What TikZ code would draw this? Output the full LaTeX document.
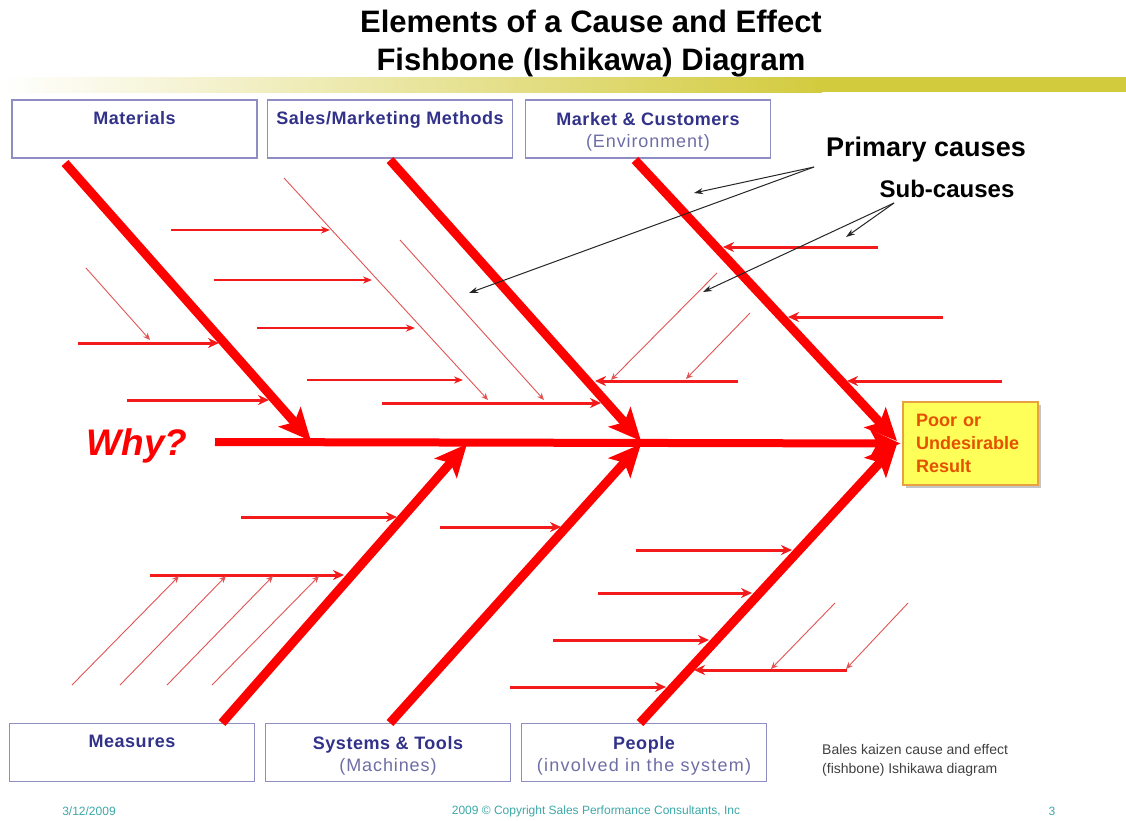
\documentclass[tikz,border=0pt]{standalone}
\usepackage{fontspec}
\setmainfont{Liberation Sans}
\usetikzlibrary{arrows.meta,shadows}
\definecolor{bonered}{HTML}{FF0000}
\definecolor{subred}{HTML}{F21A1A}
\definecolor{thinred}{HTML}{E25454}
\definecolor{boxline}{HTML}{8E8EC2}
\definecolor{boxtext}{HTML}{32328A}
\definecolor{boxsub}{HTML}{6E6EA6}
\definecolor{barc}{HTML}{D3CB3E}
\definecolor{effill}{HTML}{FFFF5A}
\definecolor{efline}{HTML}{E8A040}
\definecolor{eftext}{HTML}{E45200}
\definecolor{foot}{HTML}{3EA8A8}
\newcommand\fbconn[4]{\coordinate (#1s) at (#2); \coordinate (#1e) at (#3); \draw[#4] (#1s) -- (#1e);}
\newcommand\cattitle[1]{\rule{0pt}{19.5pt}{\bfseries\color{boxtext}\addfontfeature{LetterSpace=3}#1}}
\newcommand\catsub[2]{{\color{boxsub}\addfontfeature{LetterSpace=#1}#2}}
\begin{document}
\begin{tikzpicture}[x=1pt,y=-1pt,
  bone/.style={draw=bonered,line width=9pt,-{Stealth[length=32pt,width=29pt,inset=7pt]}},
  spine/.style={draw=bonered,line width=8pt,-{Stealth[length=30pt,width=27pt,inset=7pt]}},
  subarr/.style={draw=subred,line width=3pt,-{Stealth[length=11pt,width=10pt]}},
  midarr/.style={draw=subred,line width=1.8pt,-{Stealth[length=9pt,width=7pt]}},
  thinarr/.style={draw=thinred,line width=0.9pt,-{Stealth[length=7pt,width=6pt]}},
  annot/.style={draw=black!85,line width=1pt,-{Stealth[length=9pt,width=6pt]}},
  catbox/.style={draw=boxline,line width=1.3pt,fill=white,minimum width=245pt,minimum height=58pt,
    inner sep=0pt,align=center,font=\fontsize{18}{22}\selectfont},
  footer/.style={text=foot,font=\fontsize{12}{13}\selectfont}
]
\useasboundingbox (0,0) rectangle (1126,820);
\fill[white] (0,0) rectangle (1126,820);

% title and bar
\node[font=\fontsize{31}{38}\selectfont\bfseries,align=center] (title) at (591,44)
  {Elements of a Cause and Effect\\Fishbone (Ishikawa) Diagram};
\shade[left color=white,right color=barc] (0,77) rectangle (822,92);
\fill[barc] (818,77) rectangle (1126,92);

% category boxes
\node[catbox] (mat) at (134.5,129) {\cattitle{Materials}\\\strut};
\node[catbox] (sal) at (390,129) {\cattitle{Sales/Marketing Methods}\\\strut};
\node[catbox] (mkt) at (648,129) {\cattitle{Market \& Customers}\\\catsub{5}{(Environment)}};
\node[catbox] (mea) at (132,752.5) {\cattitle{Measures}\\\strut};
\node[catbox] (sys) at (388,752.5) {\cattitle{Systems \& Tools}\\\catsub{5}{(Machines)}};
\node[catbox] (ppl) at (644,752.5) {\cattitle{People}\\\catsub{7}{(involved in the system)}};

% effect box
\node[draw=efline,line width=1.2pt,fill=effill,minimum width=135pt,minimum height=83pt,
  text width=109pt,inner xsep=13pt,align=left,text=eftext,
  font=\fontsize{18}{23}\selectfont\bfseries,
  drop shadow={shadow xshift=3pt,shadow yshift=-3pt,fill=black!45}] (eff) at (970.5,443.5)
  {Poor or\\Undesirable\\Result};

% Why?
\node[text=bonered,font=\fontsize{37}{40}\selectfont\bfseries\itshape] (why) at (137,446) {Why?};

% spine
\coordinate (sp0) at (215,442);
\draw[spine,shorten >=2pt] (sp0) -- (eff.west);

% bones
\coordinate (matS) at (65,163);  \coordinate (matE) at (311,441);
\coordinate (salS) at (390,160); \coordinate (salE) at (641,441);
\coordinate (mktS) at (635,160); \coordinate (mktE) at (897,441);
\coordinate (meaS) at (222,723); \coordinate (meaE) at (467,444);
\coordinate (sysS) at (390,723); \coordinate (sysE) at (641,444);
\coordinate (pplS) at (640,723); \coordinate (pplE) at (897,444);
\foreach \b in {mat,sal,mkt,mea,sys,ppl} \draw[bone] (\b S) -- (\b E);

% Materials sub-causes
\fbconn{ma}{78,343}{219,343}{subarr}
\fbconn{mb}{127,400}{269,400}{subarr}
\fbconn{mc}{86,268}{150,340}{thinarr}

% Sales sub-causes
\fbconn{sa}{284,178}{488,400}{thinarr}
\fbconn{sb}{400,240}{544,400}{thinarr}
\fbconn{sc}{171,230}{330,230}{midarr}
\fbconn{sd}{214,280}{372,280}{midarr}
\fbconn{se}{257,328}{415,328}{midarr}
\fbconn{sf}{307,380}{463,380}{midarr}
\fbconn{sg}{382,403}{601,403}{subarr}
\fbconn{sh}{738,381}{595,381}{subarr}
\fbconn{si}{717,273}{611,380}{thinarr}
\fbconn{sj}{750,313}{686,379}{thinarr}

% Market sub-causes
\fbconn{ka}{878,247}{723,247}{subarr}
\fbconn{kb}{943,317}{788,317}{subarr}
\fbconn{kc}{1002,381}{847,381}{subarr}

% Measures sub-causes
\fbconn{ea}{241,517}{397,517}{subarr}
\fbconn{eb}{150,575}{344,575}{subarr}
\fbconn{ec}{72,685}{179,576}{thinarr}
\fbconn{ed}{120,685}{226,576}{thinarr}
\fbconn{ee}{167,685}{273,576}{thinarr}
\fbconn{ef}{212,685}{319,576}{thinarr}

% Systems sub-cause
\fbconn{ya}{440,527}{561,527}{subarr}

% People sub-causes
\fbconn{pa}{636,550}{792,550}{subarr}
\fbconn{pb}{598,593}{752,593}{subarr}
\fbconn{pc}{553,640}{709,640}{subarr}
\fbconn{pd}{510,687}{666,687}{subarr}
\fbconn{pe}{847,670}{694,670}{subarr}
\fbconn{pf}{835,603}{771,669}{thinarr}
\fbconn{pg}{908,603}{846,669}{thinarr}

% annotations
\node[font=\fontsize{27}{30}\selectfont\bfseries] (prim) at (926,150) {Primary causes};
\node[font=\fontsize{24}{28}\selectfont\bfseries] (subc) at (947,189) {Sub-causes};
\coordinate (primS) at (814,167);
\coordinate (primA) at (694,193);
\coordinate (primB) at (469,293);
\coordinate (subS) at (894,203);
\coordinate (subA) at (846,237);
\coordinate (subB) at (703,292);
\draw[annot] (primS) -- (primA);
\draw[annot] (primS) -- (primB);
\draw[annot] (subS) -- (subA);
\draw[annot] (subS) -- (subB);

% caption
\node[anchor=north west,inner sep=0pt,align=left,text=black!75,
  font=\fontsize{14}{19}\selectfont] (cap) at (822,744)
  {Bales kaizen cause and effect\\(fishbone) Ishikawa diagram};

% footer
\node[footer] (date) at (89,811) {3/12/2009};
\node[footer] (copy) at (596,811) {2009 © Copyright Sales Performance Consultants, Inc};
\node[footer] (page) at (1052,811) {3};
\end{tikzpicture}
\end{document}
